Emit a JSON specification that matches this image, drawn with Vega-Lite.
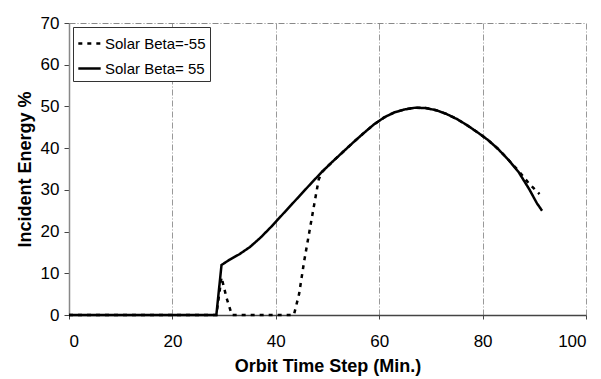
{
  "$schema": "https://vega.github.io/schema/vega-lite/v6.json",
  "autosize": "none",
  "width": 517,
  "height": 292,
  "padding": {"left": 69, "top": 23, "right": 15, "bottom": 64},
  "background": "white",
  "config": {
    "font": "Liberation Sans",
    "view": {"stroke": null}
  },
  "data": {
    "values": [
      {"t": 0, "e": 0, "s": "Solar Beta= 55"},
      {"t": 28.5, "e": 0, "s": "Solar Beta= 55"},
      {"t": 29.5, "e": 12, "s": "Solar Beta= 55"},
      {"t": 31, "e": 13.2, "s": "Solar Beta= 55"},
      {"t": 33, "e": 14.6, "s": "Solar Beta= 55"},
      {"t": 35, "e": 16.3, "s": "Solar Beta= 55"},
      {"t": 37, "e": 18.5, "s": "Solar Beta= 55"},
      {"t": 39, "e": 21, "s": "Solar Beta= 55"},
      {"t": 41, "e": 23.7, "s": "Solar Beta= 55"},
      {"t": 43, "e": 26.4, "s": "Solar Beta= 55"},
      {"t": 45, "e": 29.1, "s": "Solar Beta= 55"},
      {"t": 47, "e": 31.8, "s": "Solar Beta= 55"},
      {"t": 49, "e": 34.4, "s": "Solar Beta= 55"},
      {"t": 51, "e": 36.8, "s": "Solar Beta= 55"},
      {"t": 53, "e": 39.1, "s": "Solar Beta= 55"},
      {"t": 55, "e": 41.4, "s": "Solar Beta= 55"},
      {"t": 57, "e": 43.6, "s": "Solar Beta= 55"},
      {"t": 59, "e": 45.7, "s": "Solar Beta= 55"},
      {"t": 61, "e": 47.4, "s": "Solar Beta= 55"},
      {"t": 63, "e": 48.6, "s": "Solar Beta= 55"},
      {"t": 65, "e": 49.3, "s": "Solar Beta= 55"},
      {"t": 67, "e": 49.7, "s": "Solar Beta= 55"},
      {"t": 69, "e": 49.6, "s": "Solar Beta= 55"},
      {"t": 71, "e": 49.1, "s": "Solar Beta= 55"},
      {"t": 73, "e": 48.2, "s": "Solar Beta= 55"},
      {"t": 75, "e": 47, "s": "Solar Beta= 55"},
      {"t": 77, "e": 45.5, "s": "Solar Beta= 55"},
      {"t": 79, "e": 43.8, "s": "Solar Beta= 55"},
      {"t": 81, "e": 42, "s": "Solar Beta= 55"},
      {"t": 83, "e": 39.8, "s": "Solar Beta= 55"},
      {"t": 85, "e": 37.2, "s": "Solar Beta= 55"},
      {"t": 87, "e": 34.2, "s": "Solar Beta= 55"},
      {"t": 89, "e": 30.2, "s": "Solar Beta= 55"},
      {"t": 90.5, "e": 26.8, "s": "Solar Beta= 55"},
      {"t": 91.5, "e": 25, "s": "Solar Beta= 55"},
      {"t": 0, "e": 0, "s": "Solar Beta=-55"},
      {"t": 28.5, "e": 0, "s": "Solar Beta=-55"},
      {"t": 29.5, "e": 9, "s": "Solar Beta=-55"},
      {"t": 30.5, "e": 4, "s": "Solar Beta=-55"},
      {"t": 31.5, "e": 0, "s": "Solar Beta=-55"},
      {"t": 43.5, "e": 0, "s": "Solar Beta=-55"},
      {"t": 44.5, "e": 5, "s": "Solar Beta=-55"},
      {"t": 45.5, "e": 13, "s": "Solar Beta=-55"},
      {"t": 46.5, "e": 20, "s": "Solar Beta=-55"},
      {"t": 47.5, "e": 27, "s": "Solar Beta=-55"},
      {"t": 48.3, "e": 32.5, "s": "Solar Beta=-55"},
      {"t": 49, "e": 34.4, "s": "Solar Beta=-55"},
      {"t": 51, "e": 36.8, "s": "Solar Beta=-55"},
      {"t": 53, "e": 39.1, "s": "Solar Beta=-55"},
      {"t": 55, "e": 41.4, "s": "Solar Beta=-55"},
      {"t": 57, "e": 43.6, "s": "Solar Beta=-55"},
      {"t": 59, "e": 45.7, "s": "Solar Beta=-55"},
      {"t": 61, "e": 47.4, "s": "Solar Beta=-55"},
      {"t": 63, "e": 48.6, "s": "Solar Beta=-55"},
      {"t": 65, "e": 49.3, "s": "Solar Beta=-55"},
      {"t": 67, "e": 49.7, "s": "Solar Beta=-55"},
      {"t": 69, "e": 49.6, "s": "Solar Beta=-55"},
      {"t": 71, "e": 49.1, "s": "Solar Beta=-55"},
      {"t": 73, "e": 48.2, "s": "Solar Beta=-55"},
      {"t": 75, "e": 47, "s": "Solar Beta=-55"},
      {"t": 77, "e": 45.5, "s": "Solar Beta=-55"},
      {"t": 79, "e": 43.8, "s": "Solar Beta=-55"},
      {"t": 81, "e": 42, "s": "Solar Beta=-55"},
      {"t": 83, "e": 39.8, "s": "Solar Beta=-55"},
      {"t": 85, "e": 37.2, "s": "Solar Beta=-55"},
      {"t": 87, "e": 34.5, "s": "Solar Beta=-55"},
      {"t": 89, "e": 31.5, "s": "Solar Beta=-55"},
      {"t": 91, "e": 29, "s": "Solar Beta=-55"}
    ]
  },
  "mark": {"type": "line", "strokeWidth": 2.5, "color": "black"},
  "encoding": {
    "x": {
      "field": "t", "type": "quantitative",
      "scale": {"domain": [0, 100], "nice": false},
      "axis": {
        "values": [0, 20, 40, 60, 80, 100],
        "title": "Orbit Time Step (Min.)",
        "titleFont": "Liberation Sans", "titleFontSize": 18, "titleFontWeight": "bold", "titleColor": "black", "titlePadding": 8,
        "labelFontSize": 17, "labelColor": "black", "labelPadding": 14,
        "domainColor": "#444", "domainWidth": 1.5,
        "tickColor": "#444", "tickSize": 4,
        "grid": true, "gridColor": "#999", "gridDash": [6, 2, 1, 2], "gridWidth": 1
      }
    },
    "y": {
      "field": "e", "type": "quantitative",
      "scale": {"domain": [0, 70], "nice": false},
      "axis": {
        "values": [0, 10, 20, 30, 40, 50, 60, 70],
        "title": "Incident Energy %",
        "titleFont": "Liberation Sans", "titleFontSize": 18, "titleFontWeight": "bold", "titleColor": "black", "titlePadding": 6,
        "labelFontSize": 17, "labelColor": "black", "labelPadding": 5,
        "domainColor": "#888", "domainWidth": 1.5,
        "tickColor": "#444", "tickSize": 5,
        "grid": true, "gridColor": "#888", "gridDash": [6, 2, 1, 2], "gridWidth": 1,
        "gridOpacity": {"condition": {"test": "datum.value == 70", "value": 1}, "value": 0}
      }
    },
    "strokeDash": {
      "field": "s", "type": "nominal",
      "scale": {"domain": ["Solar Beta=-55", "Solar Beta= 55"], "range": [[4, 5], [1, 0]]},
      "legend": {
        "title": null,
        "orient": "top-left",
        "offset": 4,
        "labelFontSize": 15,
        "labelColor": "black",
        "labelOffset": 3,
        "symbolType": "stroke",
        "symbolSize": 500,
        "symbolStrokeWidth": 2.5,
        "symbolStrokeColor": "black",
        "strokeColor": "#333",
        "fillColor": "white",
        "padding": 4,
        "rowPadding": 4
      }
    }
  }
}
